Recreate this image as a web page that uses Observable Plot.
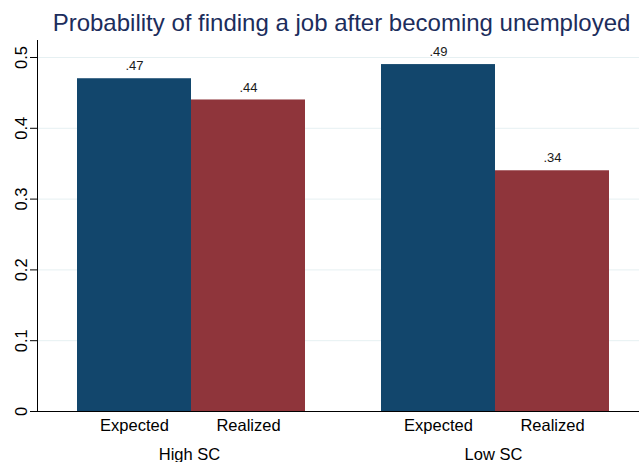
<!DOCTYPE html>
<html>
<head>
<meta charset="utf-8">
<script src="https://cdn.jsdelivr.net/npm/d3@7"></script>
<script src="https://cdn.jsdelivr.net/npm/@observablehq/plot@0.6"></script>
<style>
  html, body { margin: 0; padding: 0; background: #fff; overflow: hidden; }
  #title {
    width: 639px; height: 36px; box-sizing: border-box;
    padding-top: 9px; padding-left: 44px;
    font-family: "Liberation Sans", Arial, sans-serif;
    font-size: 24px; line-height: 27px; color: #1c2d5c;
    text-align: center; white-space: nowrap;
  }
  #chart svg { display: block; }
</style>
</head>
<body>
<div id="title">Probability of finding a job after becoming unemployed</div>
<div id="chart"></div>
<script>
const groups = ["High SC", "Low SC"];
const measures = ["Expected", "Realized"];
const expected = [0.47, 0.49];
const realized = [0.44, 0.34];
const yTicks = [0, 0.1, 0.2, 0.3, 0.4, 0.5];
const colors = ["#12466c", "#8f353b"];

const data = groups.flatMap((g, i) => [
  {group: g, measure: measures[0], value: expected[i]},
  {group: g, measure: measures[1], value: realized[i]}
]);

const fmtVal = v => d3.format(".2f")(v).replace(/^0/, "");
const fmtTick = v => v === 0 ? "0" : d3.format(".1f")(v);

const chart = Plot.plot({
  width: 639,
  height: 426,
  marginLeft: 37,
  marginRight: -6,
  marginTop: 4,
  marginBottom: 51,
  style: {fontFamily: "'Liberation Sans', Arial, sans-serif", background: "white", color: "#000", overflow: "hidden"},
  fx: {domain: groups, padding: 0, label: null},
  x: {domain: measures, paddingInner: 0, paddingOuter: 0.3333, align: 0.526, label: null},
  y: {domain: [0, 0.524], label: null},
  color: {domain: measures, range: colors},
  marks: [
    Plot.ruleY(yTicks.slice(1), {stroke: "#e6f0f2", strokeWidth: 1}),
    Plot.barY(data, {fx: "group", x: "measure", y: "value", fill: "measure"}),
    Plot.text(data, {fx: "group", x: "measure", y: "value", text: d => fmtVal(d.value),
      dy: -12.5, fontSize: 13, fill: "#1a1a1a", lineAnchor: "middle"}),
    Plot.ruleY([0], {stroke: "#000", strokeWidth: 1}),
    Plot.frame({anchor: "left", stroke: "#000", facetAnchor: "left"}),
    Plot.axisY({ticks: yTicks, tickFormat: fmtTick, tickSize: 7, tickPadding: 4,
      tickRotate: -90, fontSize: 16.5, label: null}),
    Plot.axisX({tickSize: 0, tickPadding: 8, fontSize: 16.5, label: null}),
    Plot.axisFx({anchor: "bottom", tickSize: 0, tickPadding: 37, fontSize: 16.5, label: null})
  ]
});
document.getElementById("chart").appendChild(chart);
</script>
</body>
</html>
